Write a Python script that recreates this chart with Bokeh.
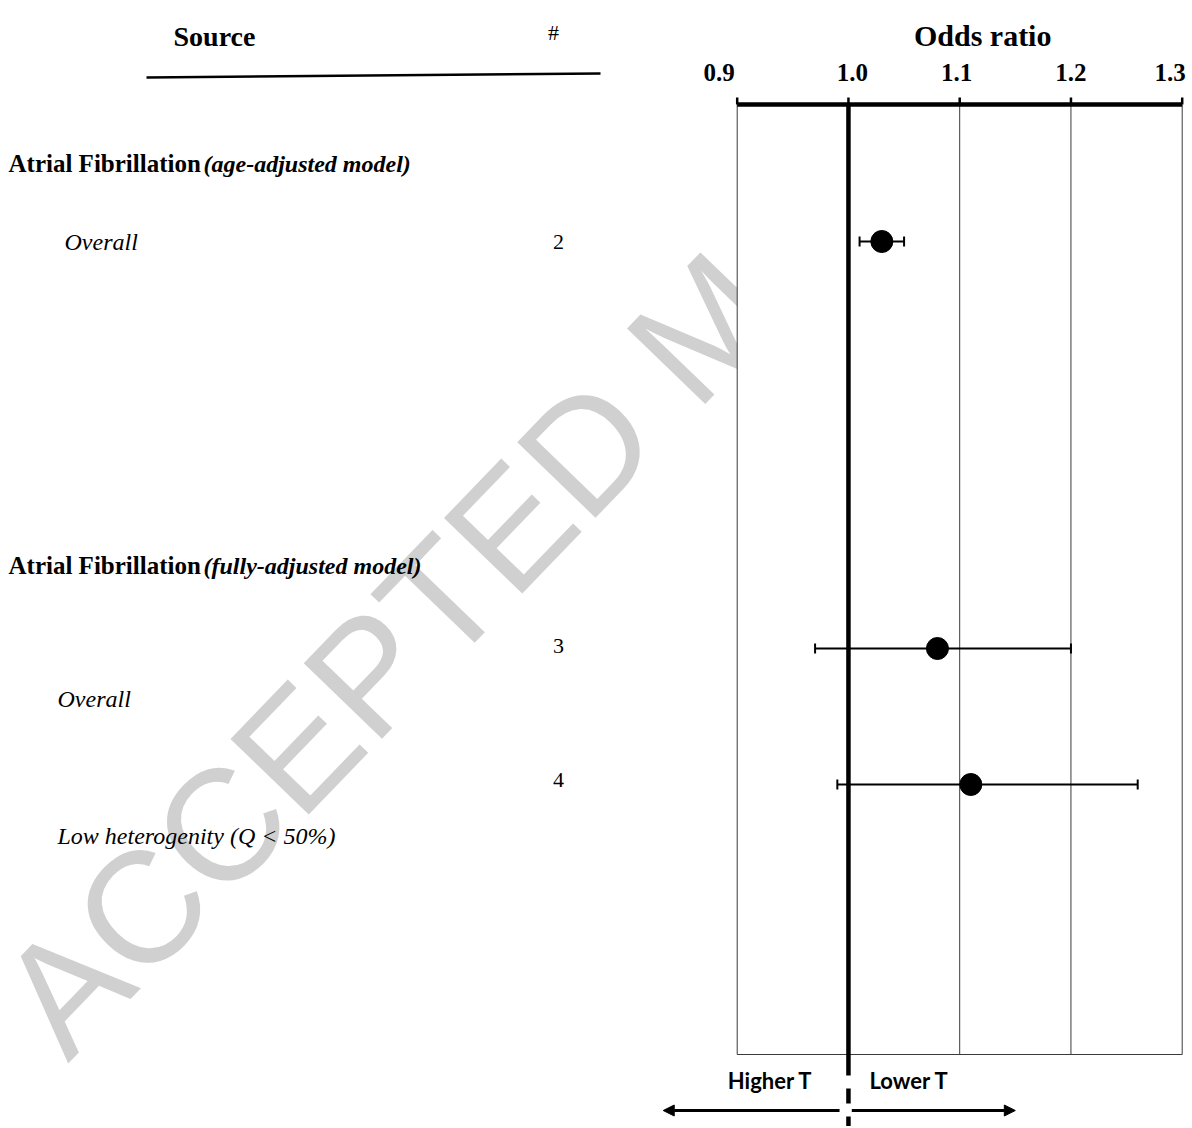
from bokeh.plotting import figure
from bokeh.models import (Range1d, Whisker, TeeHead, ColumnDataSource, Arrow, NormalHead)
from bokeh.core.properties import value
from bokeh.embed import file_html
from bokeh.resources import INLINE

# ---------------- data ----------------
section_names = ["Atrial Fibrillation", "Atrial Fibrillation"]
section_models = ["(age-adjusted model)", "(fully-adjusted model)"]
subgroups = ["Overall", "Overall", "Low heterogenity (Q < 50%)"]
study_ids = ["2", "3", "4"]
odds_ratio = [1.03, 1.08, 1.11]
ci_lower = [1.01, 0.97, 0.99]
ci_upper = [1.05, 1.20, 1.26]
or_ticks = [0.9, 1.0, 1.1, 1.2, 1.3]
tick_labels = [f"{t:.1f}" for t in or_ticks]
direction_labels = ["Higher T", "Lower T"]
null_value = 1.0

# ---------------- layout (page pixels, y grows downward) ----------------
W, H = 1192, 1126
FRAME_LEFT = 736.7            # page x of OR = 0.9
PPU = 445.0 / 0.4             # page pixels per OR unit
BOX_TOP, BOX_BOTTOM = 104, 1054
section_y = [163, 565]
number_y = [241, 645, 779]
mark_y = [241, 648, 784]
label_y = [241, 698, 835]
label_x = [64, 57, 57]
tick_label_dx = [-18, 4, -3, 0, -12]   # label placement quirks of the original

SERIF = value("Liberation Serif")

x_start = or_ticks[0] - FRAME_LEFT / PPU
x_end = or_ticks[0] + (W - FRAME_LEFT) / PPU

p = figure(width=W, height=H, x_range=Range1d(x_start, x_end), y_range=Range1d(H, 0),
           output_backend="svg", toolbar_location=None, x_axis_location=None,
           y_axis_location=None, min_border=0)
p.extra_x_ranges = {"page": Range1d(0, W)}
p.grid.visible = False
p.outline_line_color = None
p.background_fill_color = "white"
p.border_fill_color = "white"

# watermark (its tail is hidden behind the chart panel on the right, as in the original)
p.text(x=[28], y=[1025], text=["ACCEPTED MAN"], angle=46, angle_units="deg",
       text_font=value("Liberation Sans"), text_font_size="158px",
       text_color="#d0d0d0", text_align="left", text_baseline="alphabetic",
       x_range_name="page", level="image")

# white chart panel
p.quad(left=[or_ticks[0]], right=[x_end + 1], top=[-60], bottom=[BOX_BOTTOM],
       fill_color="white", line_color=None, level="image")

# ---------------- left table ----------------
p.text(x=[173], y=[36], text=["Source"], text_font=SERIF, text_font_style="bold",
       text_font_size="28px", text_align="left", text_baseline="middle", text_color="black",
       x_range_name="page")
p.text(x=[553], y=[32], text=["#"], text_font=SERIF, text_font_size="22px",
       text_align="center", text_baseline="middle", text_color="black", x_range_name="page")
p.segment(x0=[146], y0=[77], x1=[600], y1=[73], line_color="black", line_width=2.5,
          x_range_name="page")

p.text(x=[8] * len(section_names), y=section_y, text=section_names, text_font=SERIF,
       text_font_style="bold", text_font_size="25px", text_align="left",
       text_baseline="middle", text_color="black", x_range_name="page")
p.text(x=[203] * len(section_models), y=section_y, text=section_models, text_font=SERIF,
       text_font_style="bold italic", text_font_size="24px", text_align="left",
       text_baseline="middle", text_color="black", x_range_name="page")
p.text(x=label_x, y=label_y, text=subgroups, text_font=SERIF, text_font_style="italic",
       text_font_size="24px", text_align="left", text_baseline="middle", text_color="black",
       x_range_name="page")
p.text(x=[558] * len(study_ids), y=number_y, text=study_ids, text_font=SERIF,
       text_font_size="22px", text_align="center", text_baseline="middle", text_color="black",
       x_range_name="page")

# ---------------- forest panel ----------------
# vertical grid lines / box sides at each tick
p.segment(x0=or_ticks, y0=[BOX_TOP] * len(or_ticks), x1=or_ticks, y1=[BOX_BOTTOM] * len(or_ticks),
          line_color="#3a3a3a", line_width=1)
# box bottom
p.segment(x0=[or_ticks[0]], y0=[BOX_BOTTOM], x1=[or_ticks[-1]], y1=[BOX_BOTTOM],
          line_color="#3a3a3a", line_width=1)
# top axis line, ticks and labels
p.segment(x0=[or_ticks[0]], y0=[BOX_TOP], x1=[or_ticks[-1]], y1=[BOX_TOP],
          line_color="black", line_width=4.5)
p.segment(x0=or_ticks, y0=[BOX_TOP - 7] * len(or_ticks), x1=or_ticks, y1=[BOX_TOP] * len(or_ticks),
          line_color="black", line_width=2.5)
p.text(x=or_ticks, y=[72] * len(or_ticks), text=tick_labels, x_offset=tick_label_dx,
       text_font=SERIF, text_font_style="bold", text_font_size="25px", text_align="center",
       text_baseline="alphabetic", text_color="black")
p.text(x=[(or_ticks[0] + or_ticks[-1]) / 2], y=[35], text=["Odds ratio"], x_offset=[23],
       text_font=SERIF, text_font_style="bold", text_font_size="30px", text_align="center",
       text_baseline="alphabetic", text_color="black")

# null line: solid through the panel, dashed below it
p.segment(x0=[null_value], y0=[BOX_TOP], x1=[null_value], y1=[1075], line_color="black",
          line_width=4.5)
p.segment(x0=[null_value], y0=[1088], x1=[null_value], y1=[H], line_color="black",
          line_width=4.5, line_dash="15 13")

# confidence intervals and point estimates
src = ColumnDataSource(dict(y=mark_y, est=odds_ratio, lo=ci_lower, hi=ci_upper))
p.add_layout(Whisker(source=src, base="y", lower="lo", upper="hi", dimension="width",
                     line_color="black", line_width=2, level="overlay",
                     lower_head=TeeHead(size=10, line_width=2, line_color="black"),
                     upper_head=TeeHead(size=10, line_width=2, line_color="black")))
p.scatter(x="est", y="y", source=src, size=22, color="black", level="overlay")

# ---------------- direction labels & arrows ----------------
p.text(x=[0.9297, 1.0545], y=[1080, 1080], text=direction_labels, text_font=value("Lato"),
       text_font_style="bold", text_font_size="22px", text_align="center",
       text_baseline="middle", text_color="black")
p.add_layout(Arrow(x_start=null_value - 0.008, y_start=1110, x_end=null_value - 0.1665, y_end=1110,
                   line_width=3, line_color="black",
                   end=NormalHead(size=11, fill_color="black", line_color="black")))
p.add_layout(Arrow(x_start=null_value + 0.003, y_start=1110, x_end=null_value + 0.150, y_end=1110,
                   line_width=3, line_color="black",
                   end=NormalHead(size=11, fill_color="black", line_color="black")))

open("out.html", "w").write(file_html(p, INLINE))
